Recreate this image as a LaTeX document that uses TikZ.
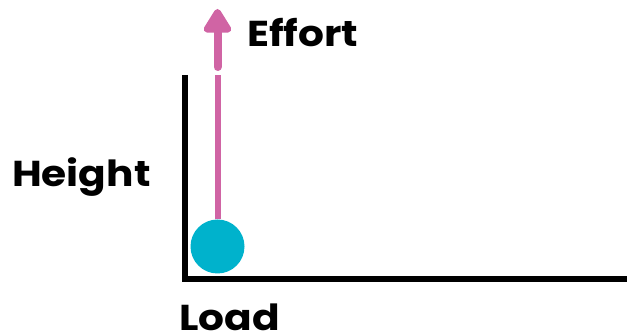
\documentclass[tikz,border=0pt]{standalone}
\usepackage{fontspec}
\usepackage{graphicx}
\setmainfont{Poppins}
\usetikzlibrary{arrows.meta}
\definecolor{pinkc}{RGB}{208,100,164}
\definecolor{cyanc}{RGB}{0,178,204}
\newcommand{\wide}[1]{\scalebox{1.13}[1]{#1}}
\begin{document}
\begin{tikzpicture}[x=1pt,y=-1pt,
  lbl/.style={anchor=base west,inner sep=0pt,font=\fontsize{36}{42}\selectfont\bfseries},
  axis/.style={line width=5.5pt,black},
  stem/.style={line width=6pt,pinkc},
  effortarrow/.style={line width=8pt,pinkc,line cap=round,-{Triangle[width=31pt,length=27pt,round]}}]
\useasboundingbox (0,0) rectangle (627,336);
\coordinate (top) at (185,75);
\coordinate (corner) at (185,279);
\coordinate (right) at (627,279);
\draw[axis] (top) -- (corner) -- (right);
\node[circle,fill=cyanc,minimum size=54pt,inner sep=0pt] (ball) at (217.5,246.5) {};
\coordinate (stemtop) at (217.5,75);
\draw[stem] (ball.north) -- (stemtop);
\coordinate (arrowstart) at (217.5,67);
\coordinate (arrowtip) at (217.5,9);
\draw[effortarrow] (arrowstart) -- (arrowtip);
\node[lbl] (effort) at (247,47) {\wide{Effort}};
\node[lbl] (height) at (12,187) {\wide{Height}};
\node[lbl] (load) at (179,331) {\wide{Load}};
\end{tikzpicture}
\end{document}
